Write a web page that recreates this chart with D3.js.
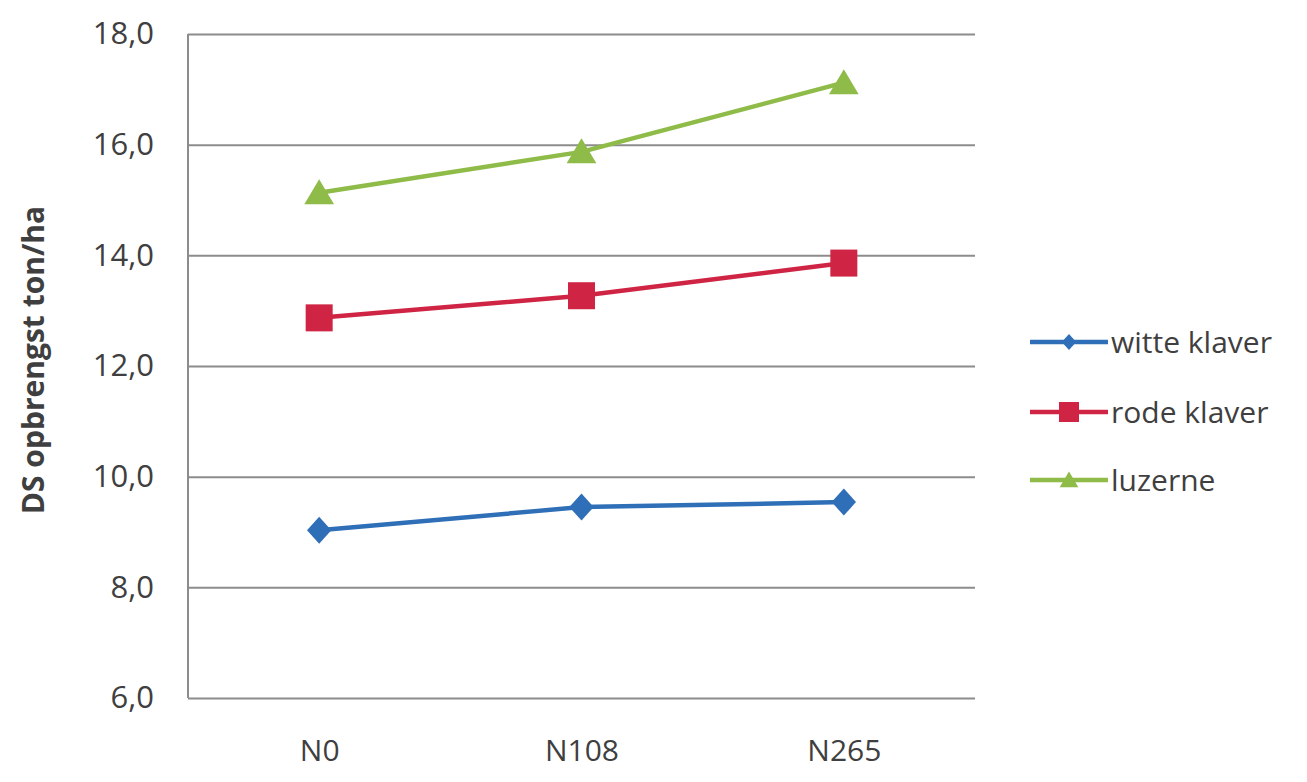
<!DOCTYPE html>
<html>
<head>
<meta charset="utf-8">
<script src="https://cdn.jsdelivr.net/npm/d3@7"></script>
<style>
  html, body { margin: 0; padding: 0; background: #ffffff; }
  svg { display: block; }
  text { font-family: "Open Sans", Lato, sans-serif; fill: #3f3f3f; }
</style>
</head>
<body>
<svg id="chart" width="1307" height="782"></svg>
<script>
// Nitrogen treatments on the x axis
const categories = ["N0", "N108", "N265"];

// Dry-matter yield (ton/ha) per crop
const witteKlaver = [9.03, 9.45, 9.54];
const rodeKlaver  = [12.87, 13.27, 13.86];
const luzerne     = [15.13, 15.87, 17.12];

const seriesNames  = ["witte klaver", "rode klaver", "luzerne"];
const seriesColors = ["#2f6fb8", "#cf2443", "#8fbb49"];
const seriesShapes = ["diamond", "square", "triangle"];

const yTicks = [6, 8, 10, 12, 14, 16, 18];
const yTitle = "DS opbrengst ton/ha";

const series = [witteKlaver, rodeKlaver, luzerne].map((values, i) => ({
  name: seriesNames[i], color: seriesColors[i], shape: seriesShapes[i], values
}));

const plot = { left: 188, right: 975, top: 34, bottom: 698 };
const svg = d3.select("#chart");

const x = d3.scalePoint().domain(categories).range([plot.left, plot.right]).padding(0.5);
const y = d3.scaleLinear().domain([6, 18]).range([plot.bottom, plot.top]);

const fmt = v => d3.format(".1f")(v).replace(".", ",");

// horizontal gridlines + y tick labels
const yAxis = d3.axisLeft(y).tickValues(yTicks).tickSize(-(plot.right - plot.left)).tickPadding(34).tickFormat(fmt);
const gy = svg.append("g").attr("transform", `translate(${plot.left},0)`).call(yAxis);
gy.select(".domain").remove();
gy.selectAll(".tick line").attr("stroke", "#8c8c8c").attr("stroke-width", 2);
gy.selectAll(".tick text").style("font-size", "31px").attr("fill", "#3f3f3f");

// vertical axis line
svg.append("line")
  .attr("x1", plot.left).attr("x2", plot.left)
  .attr("y1", y(18)).attr("y2", y(6))
  .attr("stroke", "#8c8c8c").attr("stroke-width", 2);

// x category labels
const xAxis = d3.axisBottom(x).tickSize(0).tickPadding(42);
const gx = svg.append("g").attr("transform", `translate(0,${plot.bottom})`).call(xAxis);
gx.select(".domain").remove();
gx.selectAll(".tick text").style("font-size", "30px").attr("fill", "#3f3f3f");

// y axis title
svg.append("text")
  .attr("transform", `translate(44,${(plot.top + plot.bottom) / 2 - 6}) rotate(-90)`)
  .attr("text-anchor", "middle")
  .style("font-size", "30px")
  .style("font-weight", "bold")
  .attr("fill", "#2f2f2f")
  .text(yTitle);

function markerPath(shape, size) {
  const s = size / 2;
  if (shape === "diamond") return `M0,${-s}L${s * 0.9},0L0,${s}L${-s * 0.9},0Z`;
  if (shape === "square") return `M${-s},${-s}H${s}V${s}H${-s}Z`;
  return `M0,${-s}L${s * 1.1},${s * 0.85}L${-s * 1.1},${s * 0.85}Z`;
}
const markerSize = { diamond: 27, square: 27, triangle: 27 };

const line = d3.line().x((d, i) => x(categories[i])).y(d => y(d));

series.forEach(s => {
  const g = svg.append("g");
  g.append("path")
    .attr("d", line(s.values))
    .attr("fill", "none")
    .attr("stroke", s.color)
    .attr("stroke-width", 4.5)
    .attr("stroke-linejoin", "round");
  g.selectAll("path.marker")
    .data(s.values)
    .join("path")
    .attr("class", "marker")
    .attr("transform", (d, i) => `translate(${x(categories[i])},${y(d)})`)
    .attr("d", markerPath(s.shape, markerSize[s.shape]))
    .attr("fill", s.color);
});

// legend
const legendRows = [342, 412, 480];
const legend = svg.append("g");
series.forEach((s, i) => {
  const row = legend.append("g").attr("transform", `translate(0,${legendRows[i]})`);
  row.append("line")
    .attr("x1", 1030).attr("x2", 1108)
    .attr("stroke", s.color).attr("stroke-width", 4.5);
  row.append("path")
    .attr("transform", "translate(1069,0)")
    .attr("d", markerPath(s.shape, s.shape === "square" ? 20 : s.shape === "diamond" ? 16 : 17))
    .attr("fill", s.color);
  row.append("text")
    .attr("x", 1111).attr("y", 0)
    .attr("dy", "0.35em")
    .style("font-size", "30px")
    .attr("fill", "#3f3f3f")
    .text(s.name);
});
</script>
</body>
</html>
